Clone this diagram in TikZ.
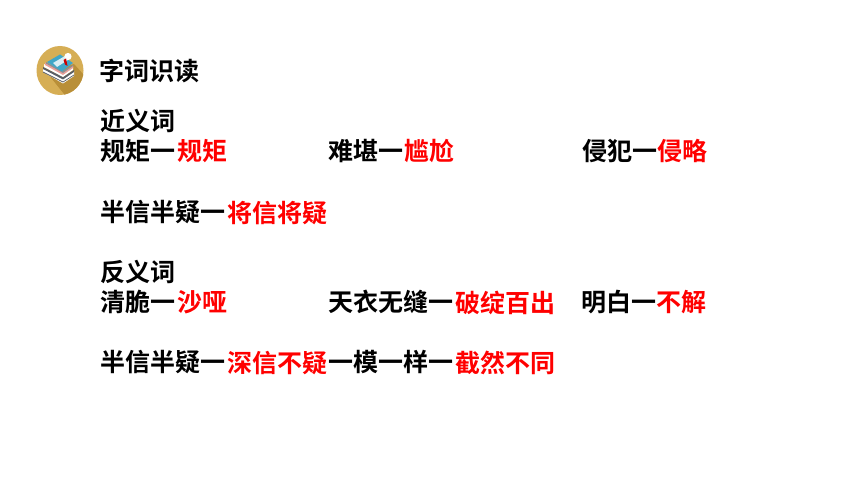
\documentclass[tikz,border=0pt]{standalone}
\usepackage{fontspec}
\setmainfont{Noto Sans CJK SC}[BoldFont={Noto Sans CJK SC Bold}]
\definecolor{gold}{HTML}{D6AE55}
\definecolor{goldd}{HTML}{B98F38}
\definecolor{bookblue}{HTML}{3FA6C8}
\definecolor{bookpink}{HTML}{E8A09A}
\definecolor{bookgrey}{HTML}{5A5F66}
\tikzset{
  blk/.style={anchor=west,inner sep=0pt,outer sep=0pt,font=\fontsize{25}{25}\selectfont\bfseries,text=black},
  rd/.style={anchor=west,inner sep=0pt,outer sep=0pt,font=\fontsize{25}{25}\selectfont\bfseries,text=red}
}
\begin{document}
\begin{tikzpicture}[x=1pt,y=-1pt]
\useasboundingbox (0,0) rectangle (860,484);
\fill[white] (0,0) rectangle (860,484);
% icon
\fill[gold] (60,70.5) ellipse (23.5 and 24.5);
\begin{scope}
\clip (60,70.5) ellipse (23.5 and 24.5);
\fill[goldd] (48,74) -- (74,64) -- (92,84) -- (72,104) -- cycle;
\end{scope}
% stack (bottom to top)
\fill[white] (43,72) -- (63,83.5) -- (74,76) -- (74,71) -- (63,78) -- (43,68) -- cycle;
\draw[bookgrey,line width=.7pt] (43,72) -- (63,82) -- (74,75);
\fill[bookgrey] (43,69) -- (63,79.5) -- (74,72) -- (74,70) -- (63,77) -- (43,67) -- cycle;
\fill[white] (44,67) -- (63,77) -- (73,70) -- (73,67) -- (63,74) -- (44,64) -- cycle;
\fill[bookpink] (45,65) -- (63,75) -- (73,68) -- (73,65.5) -- (63,72) -- (45,62.5) -- cycle;
\fill[bookgrey!70] (46,63.5) -- (63,73) -- (73,66) -- (73,65) -- (63,71) -- (46,62) -- cycle;
\fill[bookblue] (47,62) -- (60,54.5) -- (73,63) -- (62,71.5) -- cycle;
\fill[white!80!bookblue] (53,63) -- (65,56) -- (68,60) -- (57,67) -- cycle;
\fill[white] (68,56.5) circle (3.6);
\fill[red!80!black] (63.5,60) -- (66,58.5) -- (67.5,66) -- (65,64.5) -- cycle;
% text
\node[blk] (title) at (99,71) {字词识读};
\node[blk] (near) at (100,121) {近义词};
\node[blk] (a1) at (100,151) {规矩一};
\node[rd]  (a2) at (177.5,151) {规矩};
\node[blk] (b1) at (328,151) {难堪一};
\node[rd]  (b2) at (404,151) {尴尬};
\node[blk] (c1) at (582,151) {侵犯一};
\node[rd]  (c2) at (657.5,151) {侵略};
\node[blk] (d1) at (100,212) {半信半疑一};
\node[rd]  (d2) at (227.5,213) {将信将疑};
\node[blk] (anti) at (100,272) {反义词};
\node[blk] (e1) at (100,302) {清脆一};
\node[rd]  (e2) at (177.5,302.5) {沙哑};
\node[blk] (f1) at (328,302) {天衣无缝一};
\node[rd]  (f2) at (455.5,302.5) {破绽百出};
\node[blk] (g1) at (581,302) {明白一};
\node[rd]  (g2) at (656.5,302.5) {不解};
\node[blk] (h1) at (100,362) {半信半疑一};
\node[rd]  (h2) at (227.5,363) {深信不疑};
\node[blk] (i1) at (328,362) {一模一样一};
\node[rd]  (i2) at (455.5,362.5) {截然不同};
\end{tikzpicture}
\end{document}
